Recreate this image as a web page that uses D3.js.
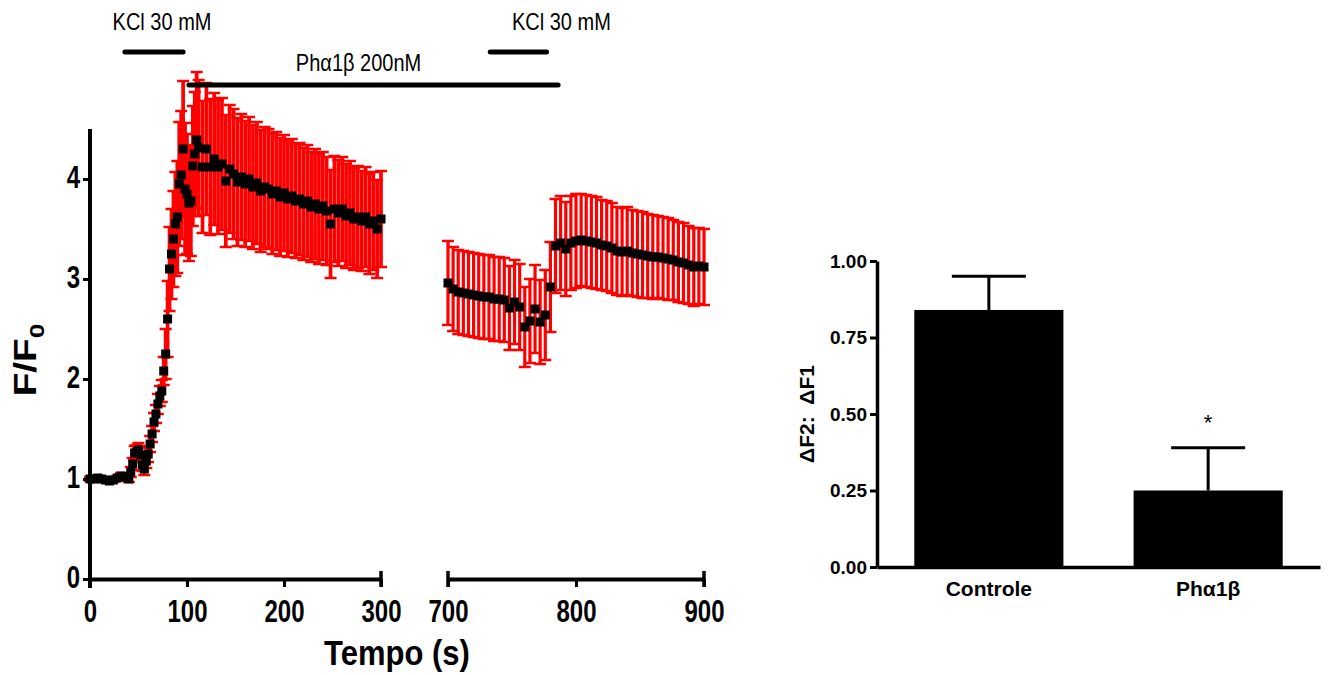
<!DOCTYPE html>
<html>
<head>
<meta charset="utf-8">
<script src="https://cdn.jsdelivr.net/npm/d3@7/dist/d3.min.js"></script>
<style>
    body { margin: 0; background: #fff; }
    svg text { font-family: "Liberation Sans", Arial, sans-serif; }
</style>
</head>
<body>
<svg id="chart" width="1331" height="675"></svg>
<script>
// time course, first window (s) - sampled more densely around the KCl response
const time1 = [0, 4, 8, 12, 16, 20, 24, 28, 32, 36,
    40, 42, 44, 46, 48, 50, 52, 54, 56, 58,
    60, 62, 64, 66, 68, 70, 72, 74, 76, 78,
    80, 82, 84, 86, 88, 90, 92, 94, 96, 98,
    100, 102, 104, 106, 108, 110, 112,
    116, 120, 124, 128, 132, 136, 140, 144, 148, 152,
    156, 160, 164, 168, 172, 176, 180, 184, 188, 192,
    196, 200, 204, 208, 212, 216, 220, 224, 228, 232,
    236, 240, 244, 248, 252, 256, 260, 264, 268, 272,
    276, 280, 284, 288, 292, 296, 300];
const mean1 = [1.00, 1.00, 1.01, 1.00, 0.99, 0.98, 0.99, 1.01, 1.03, 1.02,
    1.00, 1.07, 1.15, 1.26, 1.27, 1.29, 1.24, 1.14, 1.10, 1.18,
    1.25, 1.35, 1.45, 1.57, 1.65, 1.75, 1.83, 1.88, 2.08, 2.25,
    2.60, 3.10, 3.25, 3.40, 3.55, 3.62, 3.95, 4.04, 4.30, 3.90,
    3.85, 3.76, 3.78, 4.13, 4.25, 4.39, 4.31,
    4.12, 4.30, 4.12, 4.20, 4.12, 4.15, 3.98, 4.10, 4.05, 3.97,
    4.02, 3.95, 4.00, 3.92, 3.96, 3.88, 3.92, 3.90, 3.85, 3.88,
    3.82, 3.86, 3.80, 3.83, 3.78, 3.80, 3.75, 3.78, 3.72, 3.75,
    3.70, 3.73, 3.68, 3.55, 3.70, 3.66, 3.70, 3.63, 3.66, 3.60,
    3.62, 3.58, 3.62, 3.55, 3.58, 3.50, 3.60];
const sem1 = [0.02, 0.02, 0.02, 0.02, 0.02, 0.02, 0.02, 0.02, 0.03, 0.03,
    0.03, 0.05, 0.06, 0.07, 0.07, 0.07, 0.07, 0.06, 0.06, 0.07,
    0.08, 0.08, 0.08, 0.09, 0.09, 0.10, 0.10, 0.11, 0.14, 0.25,
    0.38, 0.42, 0.45, 0.48, 0.52, 0.56, 0.62, 0.64, 0.68, 0.66,
    0.60, 0.58, 0.55, 0.60, 0.62, 0.68, 0.68,
    0.66, 0.66, 0.68, 0.66, 0.67, 0.66, 0.66, 0.64, 0.65, 0.64,
    0.63, 0.63, 0.62, 0.62, 0.61, 0.61, 0.60, 0.60, 0.60, 0.59,
    0.59, 0.58, 0.58, 0.57, 0.57, 0.56, 0.56, 0.56, 0.55, 0.55,
    0.55, 0.54, 0.54, 0.54, 0.53, 0.53, 0.52, 0.52, 0.52, 0.51,
    0.51, 0.50, 0.50, 0.50, 0.49, 0.49, 0.48];

// second window (s)
const time2 = [700, 704, 708, 712, 716, 720, 724, 728, 732, 736, 740, 744, 748, 752, 756, 760, 764, 768, 772, 776,
    780, 784, 788, 792, 796, 800, 804, 808, 812, 816, 820, 824, 828, 832, 836, 840, 844, 848, 852, 856,
    860, 864, 868, 872, 876, 880, 884, 888, 892, 896, 900];
const mean2 = [2.96, 2.90, 2.87, 2.86, 2.85, 2.84, 2.83, 2.82, 2.82, 2.80,
    2.80, 2.79, 2.71, 2.77, 2.72, 2.52, 2.58, 2.70, 2.57, 2.64,
    2.92, 3.33, 3.36, 3.30, 3.36, 3.38, 3.39, 3.38, 3.37, 3.36,
    3.34, 3.33, 3.31, 3.28, 3.27, 3.28, 3.26, 3.25, 3.24, 3.23,
    3.22, 3.22, 3.21, 3.20, 3.19, 3.17, 3.16, 3.14, 3.12, 3.13,
    3.12];
const sem2 = [0.42, 0.42, 0.42, 0.42, 0.42, 0.42, 0.42, 0.42, 0.42, 0.42,
    0.42, 0.42, 0.42, 0.42, 0.43, 0.40, 0.42, 0.44, 0.42, 0.45,
    0.45, 0.47, 0.47, 0.47, 0.47, 0.47, 0.46, 0.46, 0.46, 0.46,
    0.45, 0.45, 0.45, 0.44, 0.44, 0.44, 0.43, 0.43, 0.43, 0.42,
    0.42, 0.41, 0.41, 0.41, 0.40, 0.40, 0.40, 0.39, 0.39, 0.38,
    0.38];

// drug application bars (start, end in s)
const treatLabels = ["KCl 30 mM", "Phα1β 200nM", "KCl 30 mM"];
const treatStart = [36, 102, 733];
const treatEnd = [96, 786, 777];

// summary bars
const groups = ["Controle", "Phα1β"];
const ratioMean = [0.84, 0.25];
const ratioSem = [0.11, 0.14];
const ratioTicks = [0, 0.25, 0.5, 0.75, 1.0];

const svg = d3.select("#chart");

// ---------- time course ----------
const y = d3.scaleLinear().domain([0, 4.5]).range([579, 129]);
const x1 = d3.scaleLinear().domain([0, 300]).range([90, 381]);
const x2 = d3.scaleLinear().domain([700, 900]).range([448, 704]);
const xt = t => t <= 300 ? x1(t) : x2(t);

const g = svg.append("g");

function errorBars(sel, xs, times, means, sems, stemWidth) {
    const eb = sel.append("g")
        .attr("stroke", "#ff0000")
        .attr("fill", "none");
    times.forEach((t, i) => {
        const cx = xs(t), lo = y(means[i] - sems[i]), hi = y(means[i] + sems[i]);
        eb.append("line").attr("x1", cx).attr("x2", cx).attr("y1", lo).attr("y2", hi)
            .attr("stroke-width", stemWidth);
        eb.append("line").attr("x1", cx - 6).attr("x2", cx + 6).attr("y1", lo).attr("y2", lo)
            .attr("stroke-width", 2.5);
        eb.append("line").attr("x1", cx - 6).attr("x2", cx + 6).attr("y1", hi).attr("y2", hi)
            .attr("stroke-width", 2.5);
    });
}

function markers(sel, xs, times, means) {
    sel.append("g").selectAll("rect")
        .data(times)
        .enter().append("rect")
        .attr("x", d => xs(d) - 4.5)
        .attr("y", (d, i) => y(means[i]) - 4.5)
        .attr("width", 9)
        .attr("height", 9)
        .attr("fill", "#000");
}

errorBars(g, x1, time1, mean1, sem1, 3.7);
errorBars(g, x2, time2, mean2, sem2, 3.2);
markers(g, x1, time1, mean1);
markers(g, x2, time2, mean2);

// axes (text in this panel is drawn taller than wide, like the original export)
function styleAxis(a) {
    a.select(".domain").attr("stroke", "#000").attr("stroke-width", 4);
    a.selectAll(".tick line").attr("stroke", "#000").attr("stroke-width", 3);
    a.selectAll(".tick text")
        .attr("fill", "#000")
        .attr("transform", "scale(1,1.3)")
        .style("font-size", "24px")
        .style("font-weight", "bold");
}

const yAxis = g.append("g")
    .attr("transform", "translate(90,0)")
    .call(d3.axisLeft(y).tickValues([0, 1, 2, 3, 4]).tickSize(7).tickSizeOuter(0).tickPadding(3)
        .tickFormat(d3.format("d")));
styleAxis(yAxis);
yAxis.selectAll(".tick text").attr("dy", "0.28em");
yAxis.select(".domain").attr("d", "M0," + (y(0) + 9) + "V" + y(4.5));

const ax1 = g.append("g")
    .attr("transform", "translate(0," + y(0) + ")")
    .call(d3.axisBottom(x1).tickValues([0, 100, 200, 300]).tickSize(8).tickSizeOuter(0).tickPadding(8));
const ax2 = g.append("g")
    .attr("transform", "translate(0," + y(0) + ")")
    .call(d3.axisBottom(x2).tickValues([700, 800, 900]).tickSize(8).tickSizeOuter(0).tickPadding(8));
[ax1, ax2].forEach(styleAxis);
// end caps of each axis piece
[[x1, 300], [x2, 700], [x2, 900]].forEach(([s, v]) => {
    g.append("line")
        .attr("x1", s(v)).attr("x2", s(v))
        .attr("y1", y(0) - 8).attr("y2", y(0) + 8)
        .attr("stroke", "#000").attr("stroke-width", 3.5);
});

g.append("text")
    .attr("transform", "translate(" + (x1(0) + x2(900)) / 2 + ",665) scale(1,1.15)")
    .attr("text-anchor", "middle")
    .style("font-size", "31px")
    .style("font-weight", "bold")
    .text("Tempo (s)");

const yLab = g.append("text")
    .attr("transform", "translate(36,360) rotate(-90) scale(1.25,1)")
    .attr("text-anchor", "middle")
    .style("font-size", "31px")
    .style("font-weight", "bold");
yLab.append("tspan").text("F/F");
yLab.append("tspan").attr("dy", 8).style("font-size", "21px").text("0");

// treatment bars
const treatRow = [0, 1, 0];
const rowY = [52, 85];
const rowText = [30, 71];
const labelShift = [8, -15, 43];
treatLabels.forEach((label, i) => {
    const r = treatRow[i];
    g.append("line")
        .attr("x1", xt(treatStart[i])).attr("x2", xt(treatEnd[i]))
        .attr("y1", rowY[r]).attr("y2", rowY[r])
        .attr("stroke", "#000").attr("stroke-width", 5)
        .attr("stroke-linecap", "round");
    const cx = (xt(treatStart[i]) + xt(treatEnd[i])) / 2 + labelShift[i];
    g.append("text")
        .attr("transform", "translate(" + cx + "," + rowText[r] + ") scale(1,1.2)")
        .attr("text-anchor", "middle")
        .style("font-size", "20px")
        .text(label);
});

// ---------- summary bars ----------
const yb = d3.scaleLinear().domain([0, 1]).range([567, 261]);
const xb = d3.scaleBand().domain(groups).range([877, 1320]).paddingInner(0.32).paddingOuter(0.17);
const gb = svg.append("g");

gb.selectAll(".bar-err")
    .data(groups)
    .enter().append("g")
    .each(function (d, i) {
        const cx = xb(d) + xb.bandwidth() / 2;
        const top = yb(ratioMean[i] + ratioSem[i]);
        const s = d3.select(this).attr("stroke", "#000").attr("stroke-width", 3);
        s.append("line").attr("x1", cx).attr("x2", cx).attr("y1", yb(ratioMean[i])).attr("y2", top);
        s.append("line").attr("x1", cx - 37).attr("x2", cx + 37).attr("y1", top).attr("y2", top);
    });

gb.selectAll(".bar")
    .data(groups)
    .enter().append("rect")
    .attr("x", d => xb(d))
    .attr("y", (d, i) => yb(ratioMean[i]))
    .attr("width", xb.bandwidth())
    .attr("height", (d, i) => yb(0) - yb(ratioMean[i]))
    .attr("fill", "#000");

const ybAxis = gb.append("g")
    .attr("transform", "translate(877,0)")
    .call(d3.axisLeft(yb).tickValues(ratioTicks).tickSize(7).tickSizeOuter(0).tickPadding(3)
        .tickFormat(d3.format(".2f")));
ybAxis.select(".domain").attr("stroke-width", 3.5);
ybAxis.selectAll(".tick line").attr("stroke-width", 3);
ybAxis.selectAll(".tick text").attr("fill", "#000").style("font-size", "19px").style("font-weight", "bold");

const xbAxis = gb.append("g")
    .attr("transform", "translate(0," + yb(0) + ")")
    .call(d3.axisBottom(xb).tickSize(0).tickSizeOuter(0).tickPadding(10));
xbAxis.select(".domain").attr("stroke-width", 3.5);
xbAxis.selectAll(".tick text").attr("fill", "#000").attr("dy", "0.9em")
    .style("font-size", "21px").style("font-weight", "bold");

gb.append("text")
    .attr("x", xb(groups[1]) + xb.bandwidth() / 2)
    .attr("y", yb(ratioMean[1] + ratioSem[1]) - 18)
    .attr("text-anchor", "middle")
    .style("font-size", "22px")
    .text("*");

gb.append("text")
    .attr("transform", "translate(814,414) rotate(-90)")
    .attr("text-anchor", "middle")
    .style("font-size", "21px")
    .style("font-weight", "bold")
    .attr("xml:space", "preserve")
    .text("ΔF2:  ΔF1");
</script>
</body>
</html>
